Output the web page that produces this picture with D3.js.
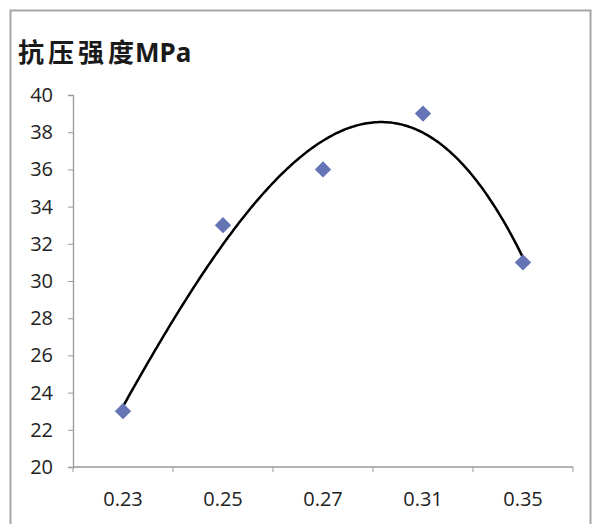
<!DOCTYPE html>
<html><head><meta charset="utf-8">
<script src="https://cdn.jsdelivr.net/npm/d3@7/dist/d3.min.js"></script>
<style>
html,body{margin:0;padding:0;background:#fff;}
svg{display:block;}
</style></head>
<body>
<svg id="chart" width="593" height="524"></svg>
<script>
const categories = ["0.23","0.25","0.27","0.31","0.35"];
const strength = [23, 33, 36, 39, 31];
const yTicks = [20,22,24,26,28,30,32,34,36,38,40];
const titleCJK = "抗压强度";
const titleUnit = "MPa";

const svg = d3.select("#chart");
const W = 593, H = 524;
const labelFont = "'Open Sans', 'DejaVu Sans', sans-serif";

// frame
svg.append("rect").attr("x",0).attr("y",0).attr("width",W).attr("height",H).attr("fill","#fff");
svg.append("path").attr("d",`M10.5,${H} V10.5 H590.5 V${H}`).attr("fill","none").attr("stroke","#a6a6a6").attr("stroke-width",2);

const x = d3.scaleBand().domain(categories).range([73,573]).padding(0);
const y = d3.scaleLinear().domain([20,40]).range([467,95]);

// y axis
const yAxis = d3.axisLeft(y).tickValues(yTicks).tickSize(5).tickPadding(15).tickFormat(d3.format("d"));
const gy = svg.append("g").attr("transform","translate(73,0)").call(yAxis);
gy.select(".domain").attr("stroke","#999").attr("stroke-width",1.3);
gy.selectAll(".tick line").attr("stroke","#999");
gy.selectAll(".tick text").attr("fill","#222").style("font-family",labelFont).style("font-size","20px");

// x axis (category boundaries as ticks)
const gx = svg.append("g").attr("transform","translate(0,467)");
gx.append("line").attr("x1",73).attr("x2",573).attr("stroke","#999").attr("stroke-width",1.3);
const bounds = categories.map(c=>x(c)).concat([x.range()[1]]);
gx.selectAll("line.tk").data(bounds).join("line").attr("class","tk")
  .attr("x1",d=>d).attr("x2",d=>d).attr("y1",0).attr("y2",5).attr("stroke","#999");
gx.selectAll("text").data(categories).join("text")
  .attr("x",d=>x(d)+x.bandwidth()/2).attr("y",39)
  .attr("text-anchor","middle").attr("fill","#222")
  .style("font-family",labelFont).style("font-size","20px")
  .text(d=>d);

// cubic polynomial trendline (least squares over category index 1..n)
function polyfit(xs, ys, deg){
  const n = deg+1;
  const A = Array.from({length:n},()=>new Array(n+1).fill(0));
  for(let i=0;i<xs.length;i++){
    for(let r=0;r<n;r++){
      for(let c=0;c<n;c++) A[r][c]+=Math.pow(xs[i],r+c);
      A[r][n]+=ys[i]*Math.pow(xs[i],r);
    }
  }
  for(let i=0;i<n;i++){
    let p=i; for(let k=i+1;k<n;k++) if(Math.abs(A[k][i])>Math.abs(A[p][i])) p=k;
    [A[i],A[p]]=[A[p],A[i]];
    for(let k=0;k<n;k++){ if(k===i) continue; const f=A[k][i]/A[i][i]; for(let j=i;j<=n;j++) A[k][j]-=f*A[i][j]; }
  }
  return A.map((row,i)=>row[n]/row[i]);
}
const idx = categories.map((c,i)=>i+1);
const coef = polyfit(idx, strength, 3);
const f = t => coef.reduce((s,c,k)=>s+c*Math.pow(t,k),0);
const xi = d3.scaleLinear().domain([1,categories.length]).range([x(categories[0])+x.bandwidth()/2, x(categories[categories.length-1])+x.bandwidth()/2]);
const samples = d3.range(1, categories.length+0.0001, 0.02);
svg.append("path").datum(samples)
  .attr("d", d3.line().x(t=>xi(t)).y(t=>y(f(t))))
  .attr("fill","none").attr("stroke","#000").attr("stroke-width",2.5);

// diamond markers
const sym = d3.symbol().type(d3.symbolDiamond2).size(170);
svg.selectAll("path.pt").data(categories).join("path").attr("class","pt")
  .attr("transform",(d,i)=>`translate(${x(d)+x.bandwidth()/2},${y(strength[i])})`)
  .attr("d",sym).attr("fill","#6474b4");

// title
const title = svg.append("text").attr("x",18).attr("y",62)
  .style("font-family","'Noto Sans CJK SC', sans-serif").style("font-weight","bold").attr("fill","#1a1a1a");
title.append("tspan").text(titleCJK).style("font-size","26px").style("letter-spacing","4px");
title.append("tspan").text(titleUnit).style("font-size","26px").style("font-family","'Noto Sans', sans-serif").attr("dx",-3);
</script>
</body></html>
